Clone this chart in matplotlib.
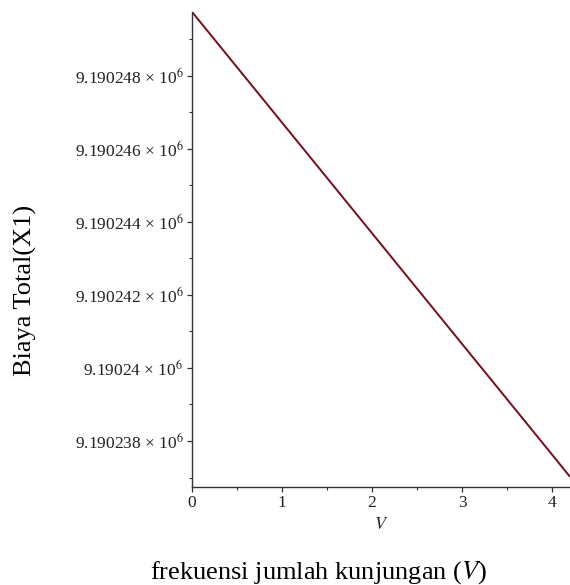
import matplotlib

matplotlib.use("Agg")
import matplotlib.pyplot as plt
from matplotlib.ticker import FuncFormatter, MultipleLocator

# values (straight line, Biaya Total vs V)
visits = [0.0, 1.0, 2.0, 3.0, 4.0, 4.2]
total_cost = [9190249.75, 9190246.72, 9190243.69, 9190240.66, 9190237.63, 9190237.02]
y_ticks = [9190238, 9190240, 9190242, 9190244, 9190246, 9190248]
x_ticks = [0, 1, 2, 3, 4]

plt.rcParams["font.family"] = ["Liberation Serif", "DejaVu Serif"]
plt.rcParams["mathtext.fontset"] = "stix"


def sci_label(val, pos):
    mant = ("%.6f" % (val / 1e6)).rstrip("0")
    return mant + " \u00d7 10$^{6}$"


fig = plt.figure(figsize=(5.7, 5.85), dpi=100, facecolor="white")
ax = fig.add_axes([0.337, 0.1675, 0.663, 0.812])
ax.plot(visits, total_cost, color="#7a0a1c", linewidth=1.4, solid_capstyle="butt")

ax.set_xlim(0, 4.2)
ax.set_ylim(9190236.74, 9190249.75)
ax.set_xticks(x_ticks)
ax.set_yticks(y_ticks)
ax.xaxis.set_minor_locator(MultipleLocator(0.5))
ax.yaxis.set_minor_locator(MultipleLocator(1))
ax.yaxis.set_major_formatter(FuncFormatter(sci_label))

for side in ("top", "right"):
    ax.spines[side].set_visible(False)
for side in ("left", "bottom"):
    ax.spines[side].set_color("#333333")
    ax.spines[side].set_linewidth(1.0)
ax.tick_params(which="major", direction="out", length=3.6, width=0.9, colors="#333333",
               labelsize=12.5, labelcolor="#222222", pad=2.5)
ax.tick_params(which="minor", direction="out", length=2.2, width=0.8, colors="#333333")

ax.set_xlabel("$V$", fontsize=13, color="#222222", labelpad=3)
fig.text(0.559, 0.021, "frekuensi jumlah kunjungan ($\\mathit{V}$)", ha="center", va="center",
         fontsize=19)
fig.text(0.044, 0.504, "Biaya Total(X1)", ha="center", va="center", rotation=90,
         fontsize=19)

fig.savefig("out.png", dpi=100, facecolor="white")
